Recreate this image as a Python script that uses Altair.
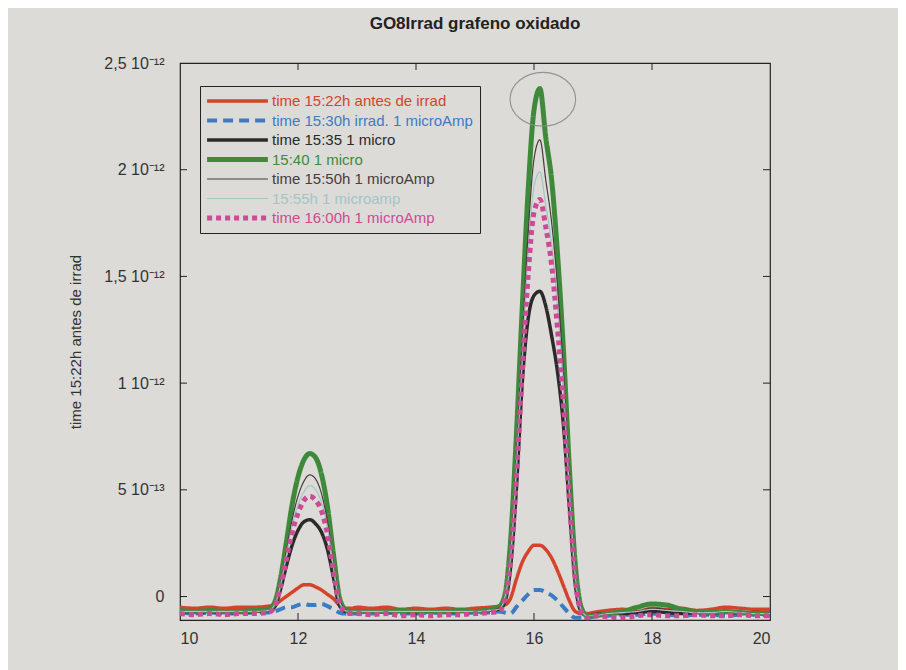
import altair as alt
import pandas as pd

# ---------------- data (y values in units of 1e-13) ----------------
x_vals = [10.0, 10.25, 10.5, 10.75, 11.0, 11.25, 11.5,
          11.6, 11.7, 11.8, 11.9, 12.0, 12.1, 12.2, 12.3, 12.4, 12.5, 12.6, 12.7, 12.8, 12.9, 13.0,
          13.25, 13.5, 13.75, 14.0, 14.25, 14.5, 14.75, 15.0, 15.25,
          15.4, 15.5, 15.6, 15.7, 15.8, 15.9, 16.0, 16.1, 16.2, 16.3, 16.4, 16.5, 16.6, 16.7, 16.8, 16.9, 17.0,
          17.25, 17.5, 17.75, 18.0, 18.25, 18.5, 18.75, 19.0, 19.25, 19.5, 19.75, 20.0]

series_names = [
    "time 15:22h antes de irrad",
    "time 15:30h irrad. 1 microAmp",
    "time 15:35 1 micro",
    "15:40 1 micro",
    "time 15:50h 1 microAmp",
    "15:55h 1 microamp",
    "time 16:00h 1 microAmp",
]

y_1522 = [-0.5, -0.55, -0.5, -0.55, -0.5, -0.5, -0.45,
          -0.4, -0.2, 0.0, 0.2, 0.4, 0.55, 0.55, 0.45, 0.3, 0.1, -0.1, -0.4, -0.55, -0.55, -0.5,
          -0.55, -0.5, -0.6, -0.55, -0.6, -0.55, -0.6, -0.55, -0.5,
          -0.45, -0.4, -0.1, 0.8, 1.6, 2.1, 2.4, 2.4, 2.2, 1.8, 1.2, 0.5, -0.2, -0.7, -0.8, -0.8, -0.75,
          -0.65, -0.6, -0.7, -0.55, -0.6, -0.55, -0.65, -0.6, -0.5, -0.55, -0.6, -0.6]
y_1530 = [-0.75, -0.8, -0.75, -0.8, -0.8, -0.75, -0.75,
          -0.7, -0.6, -0.5, -0.5, -0.4, -0.35, -0.4, -0.4, -0.35, -0.45, -0.6, -0.75, -0.8, -0.8, -0.8,
          -0.8, -0.75, -0.8, -0.8, -0.75, -0.8, -0.8, -0.75, -0.75,
          -0.7, -0.75, -0.8, -0.5, -0.2, 0.1, 0.3, 0.3, 0.2, 0.05, -0.2, -0.5, -0.8, -1.0, -1.0, -1.0, -0.95,
          -0.9, -0.85, -0.85, -0.8, -0.85, -0.9, -0.85, -0.85, -0.9, -0.85, -0.85, -0.9]
y_1535 = [-0.7, -0.75, -0.7, -0.75, -0.75, -0.7, -0.65,
          -0.5, 0.3, 1.4, 2.4, 3.1, 3.5, 3.6, 3.4, 3.0, 2.2, 0.9, -0.4, -0.7, -0.7, -0.7,
          -0.7, -0.75, -0.7, -0.75, -0.7, -0.75, -0.7, -0.7, -0.65,
          -0.6, -0.3, 1.3, 5.0, 10.0, 13.0, 14.1, 14.3, 13.6, 12.2, 10.5, 8.0, 4.2, 0.6, -0.7, -0.9, -0.85,
          -0.8, -0.8, -0.75, -0.7, -0.75, -0.8, -0.75, -0.8, -0.75, -0.8, -0.75, -0.8]
y_1540 = [-0.65, -0.7, -0.65, -0.7, -0.7, -0.65, -0.6,
          -0.3, 0.8, 2.5, 4.3, 5.6, 6.4, 6.7, 6.5, 5.7, 4.2, 2.0, 0.0, -0.6, -0.7, -0.7,
          -0.7, -0.7, -0.65, -0.7, -0.7, -0.7, -0.65, -0.7, -0.6,
          -0.5, 0.0, 2.5, 7.5, 13.5, 19.0, 22.8, 23.8, 21.5, 19.5, 16.0, 11.5, 6.0, 1.5, -0.5, -0.9, -0.9,
          -0.8, -0.7, -0.5, -0.35, -0.4, -0.6, -0.7, -0.75, -0.7, -0.75, -0.8, -0.8]
y_1550 = [-0.7, -0.7, -0.7, -0.7, -0.7, -0.7, -0.65,
          -0.4, 0.6, 2.1, 3.6, 4.7, 5.4, 5.7, 5.5, 4.8, 3.5, 1.6, -0.1, -0.6, -0.7, -0.7,
          -0.7, -0.7, -0.7, -0.7, -0.7, -0.7, -0.7, -0.7, -0.65,
          -0.55, -0.1, 2.0, 6.5, 12.0, 17.0, 20.5, 21.4, 19.5, 17.5, 14.5, 10.5, 5.5, 1.2, -0.6, -0.9, -0.9,
          -0.8, -0.75, -0.7, -0.55, -0.6, -0.7, -0.75, -0.75, -0.7, -0.75, -0.8, -0.8]
y_1555 = [-0.7, -0.7, -0.7, -0.7, -0.7, -0.7, -0.65,
          -0.4, 0.5, 1.9, 3.3, 4.3, 4.9, 5.2, 5.0, 4.4, 3.2, 1.4, -0.2, -0.65, -0.7, -0.7,
          -0.7, -0.7, -0.7, -0.7, -0.7, -0.7, -0.7, -0.7, -0.65,
          -0.6, -0.1, 1.8, 6.0, 11.0, 16.0, 19.2, 19.9, 18.3, 16.5, 13.5, 9.8, 5.0, 1.0, -0.6, -0.9, -0.9,
          -0.8, -0.75, -0.7, -0.6, -0.65, -0.7, -0.75, -0.75, -0.7, -0.75, -0.8, -0.8]
y_1600 = [-0.8, -0.85, -0.8, -0.85, -0.8, -0.8, -0.75,
          -0.5, 0.4, 1.7, 3.0, 3.9, 4.5, 4.7, 4.5, 4.0, 2.9, 1.2, -0.3, -0.7, -0.8, -0.8,
          -0.85, -0.8, -0.9, -0.85, -0.9, -0.85, -0.85, -0.8, -0.75,
          -0.7, -0.2, 1.6, 5.5, 10.5, 15.0, 18.0, 18.6, 17.3, 15.5, 12.5, 9.0, 4.5, 0.8, -0.7, -1.0, -0.9,
          -0.95, -1.0, -0.9, -0.85, -0.9, -0.9, -0.85, -0.9, -0.9, -0.85, -0.9, -0.9]

series_values = [y_1522, y_1530, y_1535, y_1540, y_1550, y_1555, y_1600]

series_colors = ["#d5432a", "#3b7cc4", "#2a2a2a", "#3f8a3a", "#4a3c3c", "#a2c6c6", "#cc4b96"]
series_dash = [[1, 0], [10, 6], [1, 0], [1, 0], [1, 0], [1, 0], [5, 4]]
series_width = [3.5, 4, 3.5, 5, 1.2, 1.2, 5]

y_tick_values = [0, 5, 10, 15, 20, 25]
y_tick_labels = ["0", "5 10⁻¹³", "1 10⁻¹²", "1,5 10⁻¹²", "2 10⁻¹²", "2,5 10⁻¹²"]
x_tick_values = [10, 12, 14, 16, 18, 20]
inner_y_ticks = [0, 5, 10, 15, 20]
inner_x_ticks = [12, 14, 16, 18]

mark_x = [16.15]
mark_y = [23.3]

# ---------------- build tables ----------------
rows = []
for i, (name, vals) in enumerate(zip(series_names, series_values)):
    assert len(vals) == len(x_vals), name
    for xv, yv in zip(x_vals, vals):
        rows.append({"x": xv, "y": yv, "series": name, "w": series_width[i], "k": i})
df = pd.DataFrame(rows)

W, H = 590, 557
FONT = "Liberation Sans"
xscale = alt.Scale(domain=[10, 20], nice=False, zero=False)
yscale = alt.Scale(domain=[-1.1, 25], nice=False, zero=False)

label_expr = ""
for v, lab in zip(y_tick_values, y_tick_labels):
    label_expr += f"abs(datum.value - {v}) < 0.01 ? '{lab}' : "
label_expr += "''"

width_list = "[" + ",".join(str(w) for w in series_width) + "]"
width_expr = f"(datum && isValid(datum.index) && {width_list}[datum.index]) || 3"

x_axis = alt.Axis(values=x_tick_values, title=None, labelFontSize=16, labelPadding=10)
y_axis = alt.Axis(values=y_tick_values, labelExpr=label_expr, title="time 15:22h antes de irrad",
                  labelFontSize=16, labelPadding=16, titleFontSize=15, titleFontWeight="normal",
                  titleX=-105, titleY=H / 2, titleBaseline="middle", titleAngle=270)

legend = alt.Legend(
    title=None, orient="none", legendX=20, legendY=23, direction="vertical",
    symbolType="stroke", symbolSize=3700, clipHeight=16, labelFont=FONT, labelFontSize=15, labelLimit=400,
    labelColor=alt.ExprRef("scale('color', datum.value)"),
    symbolStrokeWidth=alt.ExprRef(width_expr),
    strokeColor="#222", padding=7, rowPadding=3.5, symbolOffset=0, labelOffset=4,
)

lines = alt.Chart(df).mark_line(interpolate="monotone").encode(
    x=alt.X("x:Q", scale=xscale, axis=x_axis),
    y=alt.Y("y:Q", scale=yscale, axis=y_axis),
    color=alt.Color("series:N", scale=alt.Scale(domain=series_names, range=series_colors), legend=legend),
    strokeDash=alt.StrokeDash("series:N", scale=alt.Scale(domain=series_names, range=series_dash), legend=legend),
    strokeWidth=alt.StrokeWidth("w:Q", scale=None),
    order=alt.Order("x:Q"),
)

yt = pd.DataFrame({"v": inner_y_ticks})
xt = pd.DataFrame({"v": inner_x_ticks})
tick_col = "#222"
left_ticks = alt.Chart(yt).mark_rule(color=tick_col, strokeWidth=1).encode(
    y=alt.Y("v:Q", scale=yscale, axis=y_axis), x=alt.value(0), x2=alt.value(7))
right_ticks = alt.Chart(yt).mark_rule(color=tick_col, strokeWidth=1).encode(
    y=alt.Y("v:Q", scale=yscale, axis=y_axis), x=alt.value(W - 7), x2=alt.value(W))
bottom_ticks = alt.Chart(xt).mark_rule(color=tick_col, strokeWidth=1).encode(
    x=alt.X("v:Q", scale=xscale, axis=x_axis), y=alt.value(H - 7), y2=alt.value(H))
top_ticks = alt.Chart(xt).mark_rule(color=tick_col, strokeWidth=1).encode(
    x=alt.X("v:Q", scale=xscale, axis=x_axis), y=alt.value(0), y2=alt.value(7))

pen = alt.Chart(pd.DataFrame({"px": mark_x, "py": mark_y})).mark_point(
    shape="M-1,0 A1,0.82 0 1,1 1,0 A1,0.82 0 1,1 -1,0",
    filled=False, stroke="#8c8c8c", strokeWidth=1.1, size=4300, opacity=0.9,
).encode(x=alt.X("px:Q", scale=xscale, axis=x_axis), y=alt.Y("py:Q", scale=yscale, axis=y_axis))

chart = alt.layer(lines, left_ticks, right_ticks, bottom_ticks, top_ticks, pen).properties(
    width=W, height=H,
    title=alt.TitleParams("GO8Irrad grafeno oxidado", font=FONT, fontSize=17, fontWeight="bold",
                          color="#222", offset=22, anchor="middle"),
    autosize=alt.AutoSizeParams(type="none"),
    padding={"left": 172, "top": 55, "right": 128, "bottom": 50},
    background="#dcdbd7",
).configure_view(stroke="#222", strokeWidth=1.2).configure_axis(
    domain=False, ticks=False, grid=False, labelFont=FONT, titleFont=FONT,
    labelColor="#333", titleColor="#333",
)

chart.save("out.html", embed_options={"renderer": "svg", "actions": False})
